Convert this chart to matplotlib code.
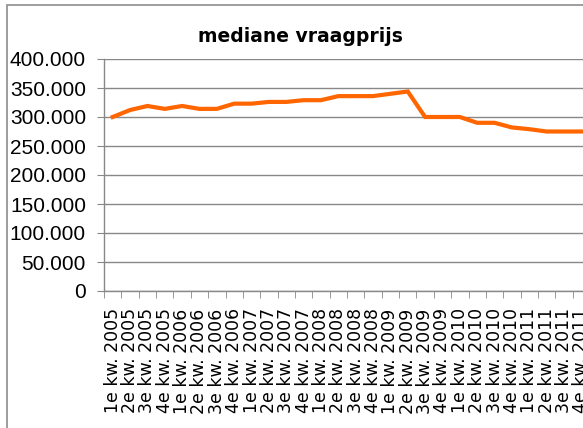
import matplotlib
matplotlib.use("Agg")
import matplotlib.pyplot as plt
from matplotlib.patches import Rectangle
from matplotlib.ticker import FuncFormatter, MultipleLocator

TITLE = "mediane vraagprijs"
YEARS = [2005, 2006, 2007, 2008, 2009, 2010, 2011]
QUARTERS = ["1e", "2e", "3e", "4e"]
LABELS = [f"{q} kw. {y}" for y in YEARS for q in QUARTERS]
PRICES = [
    300000, 312000, 319000, 314000, 319000, 314000, 314000,
    323000, 323000, 326000, 326000, 329000, 329000, 336000,
    336000, 336000, 340000, 344000, 300000, 300000, 300000,
    290000, 290000, 282000, 279000, 275000, 275000, 275000,
]
LINE_COLOR = "#FF6600"
GRID_COLOR = "#888888"

plt.rcParams["font.family"] = ["Liberation Sans", "DejaVu Sans"]

fig = plt.figure(figsize=(5.83, 4.28), dpi=100)
W, H = 583, 428

# chart area border (cropped on right and bottom)
fig.patches.append(Rectangle((7 / W, -0.1), 1.2, (H - 5) / H + 0.1,
                             transform=fig.transFigure, fill=False,
                             edgecolor="#8c8c8c", linewidth=1.2))

ax = fig.add_axes([104 / W, 137 / H, 486 / W, 232 / H])
x = list(range(len(PRICES)))
ax.plot(x, PRICES, color=LINE_COLOR, linewidth=3, solid_joinstyle="miter",
        clip_on=False)

ax.set_xlim(-0.5, len(PRICES) - 0.5)
ax.set_ylim(0, 400000)
ax.yaxis.set_major_locator(MultipleLocator(50000))
ax.yaxis.set_major_formatter(FuncFormatter(lambda v, p: f"{int(v):,}".replace(",", ".")))
ax.grid(axis="y", color=GRID_COLOR, linewidth=1.0)
ax.set_axisbelow(True)

ax.set_xticks(x)
ax.set_xticklabels(LABELS, rotation=90, va="top", ha="center",
                   family="DejaVu Sans")
ax.set_xticks([i - 0.5 for i in range(len(PRICES) + 1)], minor=True)
ax.tick_params(axis="x", which="major", length=0, pad=12.5, labelsize=12.5)
ax.tick_params(axis="x", which="minor", length=5, color=GRID_COLOR, direction="out")
ax.tick_params(axis="y", length=5, color=GRID_COLOR, pad=8, labelsize=15)

for s in ["top", "right"]:
    ax.spines[s].set_visible(False)
for s in ["left", "bottom"]:
    ax.spines[s].set_color(GRID_COLOR)
    ax.spines[s].set_linewidth(1.0)

fig.text(300 / W, 1 - 42 / H, TITLE, ha="center", va="baseline",
         fontsize=13.5, fontweight="bold", family="DejaVu Sans")

fig.savefig("out.png", dpi=100)
